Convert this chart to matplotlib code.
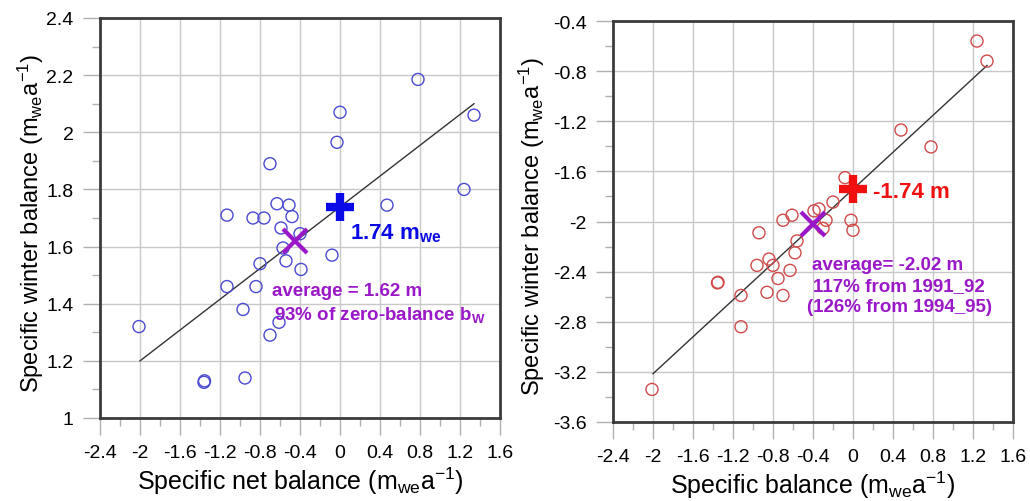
import matplotlib.pyplot as plt
import numpy as np
from matplotlib.ticker import MultipleLocator

plt.rcParams['font.family'] = ['Liberation Sans', 'DejaVu Sans']
plt.rcParams['mathtext.fontset'] = 'custom'
plt.rcParams['mathtext.rm'] = 'Liberation Sans'
plt.rcParams['mathtext.it'] = 'Liberation Sans'
plt.rcParams['mathtext.bf'] = 'Liberation Sans:bold'

# winter balance vs net balance (left)
net_bal = [0.78, 0.0, 1.34, -0.03, -0.70, 1.24, -0.63, -0.51, 0.47, -1.13, -0.87, -0.76,
           -0.48, -0.59, -0.40, -0.57, -0.54, -0.08, -0.80, -0.39, -1.13, -0.84, -0.97,
           -0.61, -2.01, -0.70, -1.36, -1.355, -0.95]
winter_bal = [2.185, 2.07, 2.06, 1.965, 1.89, 1.80, 1.75, 1.745, 1.745, 1.71, 1.70, 1.70,
              1.705, 1.665, 1.645, 1.595, 1.55, 1.57, 1.54, 1.52, 1.46, 1.46, 1.38,
              1.335, 1.32, 1.29, 1.125, 1.13, 1.14]
fit_left_x = [-2.0, 1.34]
fit_left_y = [1.20, 2.10]
zero_bw = 1.74
avg_bw = (-0.45, 1.62)

# summer balance vs specific balance (right)
spec_bal = [1.24, 1.34, 0.48, 0.78, -0.08, -0.20, -0.34, -0.39, -0.61, -0.70, -0.27, -0.02,
            -0.30, 0.0, -0.94, -0.56, -0.58, -0.84, -0.96, -0.80, -0.63, -0.75, -1.35,
            -1.355, -1.12, -0.86, -0.70, -1.12, -2.01]
summer_bal = [-0.56, -0.72, -1.27, -1.405, -1.65, -1.845, -1.90, -1.915, -1.95, -1.99, -1.99,
              -1.99, -2.055, -2.07, -2.09, -2.155, -2.25, -2.30, -2.35, -2.35, -2.39, -2.455,
              -2.485, -2.49, -2.59, -2.565, -2.59, -2.84, -3.34]
fit_right_x = [-2.0, 1.34]
fit_right_y = [-3.215, -0.755]
zero_bs = -1.74
avg_bs = (-0.40, -2.02)

purple = '#9a18c8'
grid_c = '#c8c8c8'
spine_c = '#3c3c3c'

fig = plt.figure(figsize=(10.3, 5.02), dpi=100)
ax1 = fig.add_axes([100 / 1030, 83 / 502, 400 / 1030, 400 / 502])
ax2 = fig.add_axes([613 / 1030, 79 / 502, 400 / 1030, 401 / 502])


def fmt(v, pos):
    if abs(v) < 1e-9:
        return '0'
    return f'{v:.1f}'.rstrip('0').rstrip('.')


def style(ax, ymaj, ymin_):
    ax.xaxis.set_major_locator(MultipleLocator(0.4))
    ax.xaxis.set_minor_locator(MultipleLocator(0.2))
    ax.yaxis.set_major_locator(MultipleLocator(ymaj))
    ax.yaxis.set_minor_locator(MultipleLocator(ymin_))
    ax.xaxis.set_major_formatter(fmt)
    ax.yaxis.set_major_formatter(fmt)
    ax.grid(True, which='major', color=grid_c, lw=1)
    ax.set_axisbelow(True)
    ax.tick_params(which='major', length=12, width=1, color='#b0b0b0', labelsize=14, pad=7)
    ax.tick_params(which='minor', length=6, width=1, color='#b0b0b0')
    for s in ax.spines.values():
        s.set_color(spine_c)
        s.set_linewidth(2)


# left panel
ax1.set_xlim(-2.4, 1.6)
ax1.set_ylim(1.0, 2.4)
style(ax1, 0.2, 0.1)
ax1.plot(fit_left_x, fit_left_y, color='#333333', lw=1)
ax1.scatter(net_bal, winter_bal, s=75, facecolors='none', edgecolors='#4a4ad0', linewidths=1, zorder=3)
ax1.plot(0, zero_bw, marker='+', ms=20, mew=6, color='#0a0ae6', zorder=4)
ax1.plot(*avg_bw, marker='x', ms=17, mew=3, color=purple, zorder=4)
ax1.text(0.1, 1.65, r'1.74 m$_{\mathbf{we}}$', color='#0a0ae6', fontsize=16, fontweight='bold', va='center')
ax1.text(-0.68, 1.445, 'average = 1.62 m', color=purple, fontsize=13.5, fontweight='bold', va='center')
ax1.text(-0.66, 1.365, r'93% of zero-balance b$_{\mathbf{W}}$', color=purple, fontsize=13.5, fontweight='bold', va='center')
ax1.set_xlabel(r'Specific net balance (m$_{\rm we}$a$^{-1}$)', fontsize=18, labelpad=2)
ax1.set_ylabel(r'Specific winter balance (m$_{\rm we}$a$^{-1}$)', fontsize=17)
ax1.yaxis.set_label_coords(-0.135, 0.49)

# right panel
ax2.set_xlim(-2.4, 1.6)
ax2.set_ylim(-3.6, -0.4)
style(ax2, 0.4, 0.2)
ax2.plot(fit_right_x, fit_right_y, color='#333333', lw=1)
ax2.scatter(spec_bal, summer_bal, s=75, facecolors='none', edgecolors='#d04a4a', linewidths=1, zorder=3)
ax2.plot(0, zero_bs, marker='+', ms=20, mew=6, color='#f01010', zorder=4)
ax2.plot(*avg_bs, marker='x', ms=17, mew=3, color=purple, zorder=4)
ax2.text(0.2, -1.757, '-1.74 m', color='#f01010', fontsize=16, fontweight='bold', va='center')
ax2.text(-0.41, -2.345, 'average= -2.02 m', color=purple, fontsize=13.5, fontweight='bold', va='center')
ax2.text(-0.40, -2.51, '117% from 1991_92', color=purple, fontsize=13.5, fontweight='bold', va='center')
ax2.text(-0.46, -2.68, '(126% from 1994_95)', color=purple, fontsize=13.5, fontweight='bold', va='center')
ax2.set_xlabel(r'Specific balance (m$_{\rm we}$a$^{-1}$)', fontsize=18, labelpad=2)
ax2.set_ylabel(r'Specific winter balance (m$_{\rm we}$a$^{-1}$)', fontsize=17)
ax2.yaxis.set_label_coords(-0.165, 0.49)

fig.savefig('out.png', dpi=100)
